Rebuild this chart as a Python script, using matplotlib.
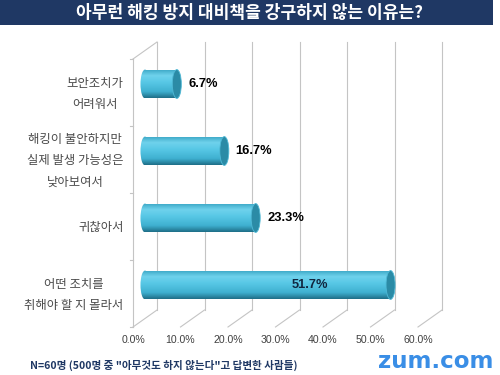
import numpy as np
import matplotlib
matplotlib.use("Agg")
import matplotlib.pyplot as plt
from matplotlib.patches import Rectangle, Ellipse
from matplotlib.colors import to_rgb

plt.rcParams['font.family'] = ['Noto Sans CJK KR', 'DejaVu Sans']

# --- data ---
title = "아무런 해킹 방지 대비책을 강구하지 않는 이유는?"
categories = ["보안조치가\n어려워서",
              "해킹이 불안하지만\n실제 발생 가능성은\n낮아보여서",
              "귀찮아서",
              "어떤 조치를\n취해야 할 지 몰라서"]
values = [6.7, 16.7, 23.3, 51.7]
xticks = [0, 10, 20, 30, 40, 50, 60]
footnote = 'N=60명 (500명 중 "아무것도 하지 않는다"고 답변한 사람들)'
logo = "zum.com"

# --- layout (3D-ish box, mid plane = data plane) ---
W, H = 500, 375
ppu = 4.75          # pixels per percent
xmin, xmax = -5, 60
x_left = 145 + xmin * ppu
fig = plt.figure(figsize=(5, 3.75), dpi=100)
ax = fig.add_axes([x_left / W, 1 - 318.5 / H, (430 - x_left) / W, 268 / H])
ax.set_axis_off()
n = len(categories)
dx = 12 / ppu       # depth offset in data units (x)
dy = 8.5 / 67.0     # depth offset in data units (y)
grid_c = "#c4c4c4"
ybot, ytop = n - 0.5, -0.5

# back wall gridlines + floor diagonals
for t in xticks:
    ax.plot([t + dx, t + dx], [ytop - dy, ybot - dy], color=grid_c, lw=0.8,
            clip_on=False, zorder=1)
    ax.plot([t - dx, t + dx], [ybot + dy, ybot - dy], color=grid_c, lw=0.8,
            clip_on=False, zorder=1)
    ax.text(t - dx, ybot + dy + 0.2, f"{t:.1f}%", ha="center", va="center",
            fontsize=7.6, color="#404040", family="Liberation Sans")

# left wall
ax.plot([-dx, -dx], [ytop + dy, ybot + dy], color=grid_c, lw=0.8, clip_on=False, zorder=1)
ax.plot([-dx, dx], [ytop + dy, ytop - dy], color=grid_c, lw=0.8, clip_on=False, zorder=1)
for k in range(n + 1):
    yk = k - 0.5 + dy
    ax.plot([-dx - 0.7, -dx], [yk, yk], color=grid_c, lw=0.8, clip_on=False, zorder=1)

# cylinder gradient
stops = [(0.0, "#3aa6c4"), (0.22, "#6fd2ec"), (0.45, "#58c8e6"),
         (0.78, "#3fb0d0"), (1.0, "#1f6f88")]
pos = np.linspace(0, 1, 64)
grad = np.zeros((64, 1, 3))
for c in range(3):
    grad[:, 0, c] = np.interp(pos, [s[0] for s in stops],
                              [to_rgb(s[1])[c] for s in stops])

bh = 0.43
ew = 1.9
for i, v in enumerate(values):
    y0, y1 = i - bh / 2, i + bh / 2
    body = Rectangle((0, y0), v, bh, transform=ax.transData)
    left = Ellipse((0, i), ew, bh, transform=ax.transData)
    for clip in (body, left):
        im = ax.imshow(grad, extent=(-ew / 2, v, y1, y0), aspect="auto",
                       origin="upper", zorder=3, interpolation="bilinear")
        im.set_clip_path(clip)
    ax.add_patch(Ellipse((v, i), ew, bh, facecolor="#2b8ba6",
                         edgecolor="#4fb9d6", lw=0.6, zorder=4))
    if v > 40:
        ax.text(v - 17, i, f"{v:.1f}%", ha="center", va="center",
                fontsize=9.3, fontweight="bold", color="#10263f", zorder=5,
                family="Liberation Sans")
    else:
        ax.text(v + 2.4, i, f"{v:.1f}%", ha="left", va="center",
                fontsize=9.3, fontweight="bold", color="black", zorder=5,
                family="Liberation Sans")
    ax.text(-dx - 2.0, i + dy + 0.02, categories[i], ha="right", va="center",
            multialignment="center", fontsize=8.9, color="#4a4a4a",
            linespacing=1.85)

ax.set_xlim(xmin, xmax)
ax.set_ylim(ybot, ytop)

# title bar
fig.patches.append(Rectangle((0, 1 - 25 / H), 493 / W, 25 / H,
                             transform=fig.transFigure, facecolor="#1f3864",
                             edgecolor="none", zorder=0))
fig.text(250 / W, 1 - 13 / H, title, ha="center", va="center", color="white",
         fontsize=12.3, fontweight="bold")

# footer
fig.text(30 / W, 1 - 365 / H, footnote, ha="left", va="center",
         fontsize=7.6, fontweight="bold", color="#1f3864")
fig.text(493 / W, 1 - 361 / H, logo, ha="right", va="center",
         fontsize=16.5, fontweight="bold", color="#3a8ee6", family="DejaVu Sans")

fig.savefig("out.png", dpi=100)
